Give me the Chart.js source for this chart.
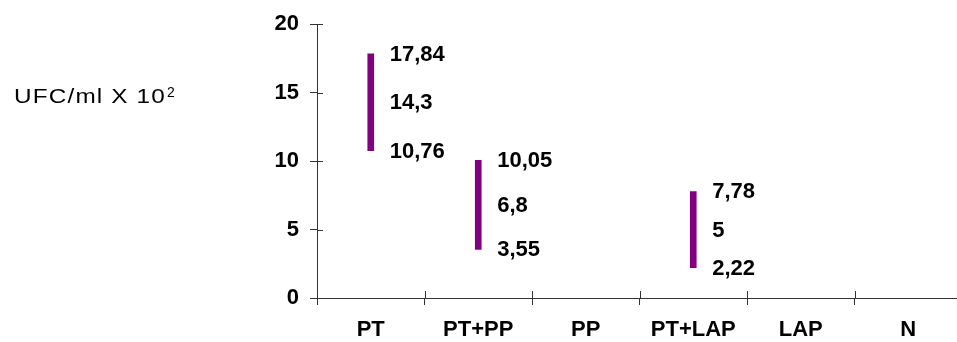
<!DOCTYPE html>
<html>
<head>
<meta charset="utf-8">
<script src="https://cdn.jsdelivr.net/npm/chart.js@4"></script>
<style>
  html, body { margin: 0; padding: 0; background: #fff; }
  #wrap { width: 957px; height: 342px; overflow: hidden; }
</style>
</head>
<body>
<div id="wrap"><canvas id="chart" width="980" height="342"></canvas></div>
<script>
// categorias e valores (min / media / max)
const categories = ["PT", "PT+PP", "PP", "PT+LAP", "LAP", "N"];
const minValues = [10.76, 3.55, null, 2.22, null, null];
const meanValues = [14.3, 6.8, null, 5, null, null];
const maxValues = [17.84, 10.05, null, 7.78, null, null];
const yTicks = [0, 5, 10, 15, 20];
const yTitle = "UFC/ml X 10";
const yTitleSup = "2";

const FONT = "'Liberation Sans', Arial, sans-serif";
const AXIS_COLOR = "#333";

// rótulos min/media/max ao lado de cada barra
const valueLabels = {
  id: "valueLabels",
  afterDatasetsDraw(chart) {
    const ctx = chart.ctx;
    const xs = chart.scales.x;
    const ys = chart.scales.y;
    ctx.save();
    ctx.fillStyle = "#000";
    ctx.font = "bold 22px " + FONT;
    ctx.textAlign = "left";
    ctx.textBaseline = "alphabetic";
    categories.forEach((cat, i) => {
      if (minValues[i] == null) return;
      const x = xs.getPixelForValue(i) + 19;
      [maxValues[i], meanValues[i], minValues[i]].forEach((v) => {
        const y = ys.getPixelForValue(v) + 7;
        ctx.fillText(String(v).replace(".", ","), x, y);
      });
    });
    ctx.restore();
  }
};

// título do eixo y (horizontal, à esquerda) + tiques cruzados
const extras = {
  id: "extras",
  afterDraw(chart) {
    const ctx = chart.ctx;
    const xs = chart.scales.x;
    const ys = chart.scales.y;
    const area = chart.chartArea;
    ctx.save();
    ctx.fillStyle = "#000";
    ctx.font = "21px " + FONT;
    ctx.textBaseline = "alphabetic";
    ctx.letterSpacing = "1px";
    const w = ctx.measureText(yTitle).width;
    const sx = Math.min(1.25, 152 / w);
    ctx.translate(14, 103);
    ctx.scale(sx, 1);
    ctx.fillText(yTitle, 0, 0);
    ctx.setTransform(1, 0, 0, 1, 0, 0);
    ctx.letterSpacing = "0px";
    ctx.font = "14px " + FONT;
    ctx.fillText(yTitleSup, 14 + w * sx + 1, 97);

    // parte interna dos tiques
    ctx.strokeStyle = AXIS_COLOR;
    ctx.lineWidth = 1;
    ctx.beginPath();
    ys.ticks.forEach((t) => {
      const y = Math.round(ys.getPixelForValue(t.value)) + 0.5;
      ctx.moveTo(area.left, y);
      ctx.lineTo(area.left + 6, y);
    });
    for (let i = 0; i <= categories.length; i++) {
      const x = Math.round(xs.getPixelForValue(i - 0.5)) + 0.5;
      ctx.moveTo(x, area.bottom);
      ctx.lineTo(x, area.bottom - 7);
    }
    ctx.stroke();
    ctx.restore();
  }
};

new Chart(document.getElementById("chart"), {
  type: "bar",
  data: {
    labels: categories,
    datasets: [{
      data: categories.map((c, i) => minValues[i] == null ? null : [minValues[i], maxValues[i]]),
      backgroundColor: "#800080",
      borderWidth: 0,
      borderSkipped: false,
      barThickness: 6
    }]
  },
  options: {
    responsive: false,
    animation: false,
    devicePixelRatio: 1,
    layout: { padding: { top: 22, right: 18, left: 0, bottom: 0 } },
    plugins: {
      legend: { display: false },
      tooltip: { enabled: false }
    },
    scales: {
      x: {
        offset: true,
        grid: {
          offset: true,
          drawOnChartArea: false,
          drawTicks: true,
          tickLength: 7,
          color: AXIS_COLOR
        },
        border: { display: true, color: AXIS_COLOR, width: 1 },
        ticks: {
          color: "#000",
          font: { family: FONT, size: 22, weight: "bold" },
          padding: 12,
          maxRotation: 0,
          autoSkip: false
        },
        afterFit(scale) { scale.height = 44; }
      },
      y: {
        min: 0,
        max: 20,
        afterBuildTicks(scale) { scale.ticks = yTicks.map((v) => ({ value: v })); },
        grid: {
          drawOnChartArea: false,
          drawTicks: true,
          tickLength: 7,
          color: AXIS_COLOR
        },
        border: { display: true, color: AXIS_COLOR, width: 1 },
        ticks: {
          color: "#000",
          font: { family: FONT, size: 22, weight: "bold" },
          padding: 11
        },
        afterFit(scale) { scale.width = 317; }
      }
    }
  },
  plugins: [valueLabels, extras]
});
</script>
</body>
</html>
